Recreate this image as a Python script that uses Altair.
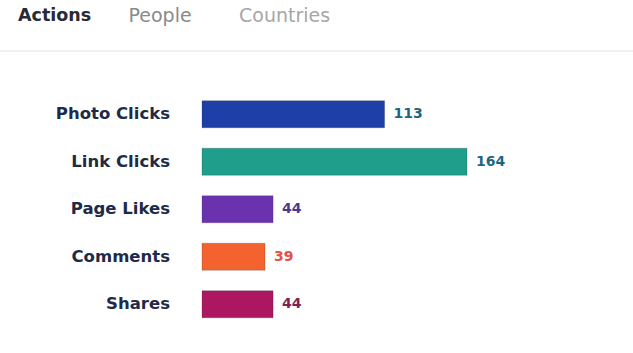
import altair as alt
import pandas as pd

categories = ["Photo Clicks", "Link Clicks", "Page Likes", "Comments", "Shares"]
values = [113, 164, 44, 39, 44]
bar_colors = ["#1f3fa8", "#1f9e8c", "#6b32b0", "#f4632f", "#ad1660"]
label_colors = ["#1d6683", "#1d6683", "#4b3a8c", "#e8504a", "#7d2352"]

tabs = ["Actions", "People", "Countries"]
tab_colors = ["#2a2a33", "#8a8a8a", "#a6a6a6"]
tab_bold = [True, False, False]

df = pd.DataFrame({"cat": categories, "val": values, "bc": bar_colors, "lc": label_colors})
tdf = pd.DataFrame({"tab": tabs, "tc": tab_colors, "b": tab_bold})

FONT = "DejaVu Sans"
xs = alt.Scale(domain=[0, 164], range=[202, 467])
ys = alt.Scale(domain=categories, range=[90.5, 328], paddingInner=0.43, paddingOuter=0.215)
ts = alt.Scale(type="point", domain=tabs, range=[18, 239], padding=0)

base = alt.Chart(df)
bars = base.mark_bar(stroke="#222222", strokeOpacity=0.35, strokeWidth=0.6).encode(
    x=alt.X("val:Q", scale=xs, axis=None),
    x2=alt.datum(0),
    y=alt.Y("cat:N", scale=ys, axis=None, sort=categories),
    color=alt.Color("bc:N", scale=None),
)
vals = base.mark_text(align="left", baseline="middle", dx=9, fontWeight="bold",
                      font=FONT, fontSize=14).encode(
    x=alt.X("val:Q", scale=xs, axis=None),
    y=alt.Y("cat:N", scale=ys, axis=None, sort=categories),
    text="val:Q",
    color=alt.Color("lc:N", scale=None),
)
cats = base.mark_text(align="right", baseline="middle", dx=-32, fontWeight="bold",
                      font=FONT, fontSize=16.5, color="#1e2a48").transform_calculate(
    zero="0"
).encode(
    x=alt.X("zero:Q", scale=xs, axis=None),
    y=alt.Y("cat:N", scale=ys, axis=None, sort=categories),
    text="cat:N",
)

tab_bold_layer = alt.Chart(tdf).transform_filter("datum.b").mark_text(
    align="left", baseline="middle", font=FONT, fontSize=17.5, fontWeight="bold"
).encode(
    x=alt.X("tab:N", scale=ts, axis=None),
    y=alt.value(16),
    text="tab:N",
    color=alt.Color("tc:N", scale=None),
)
tab_norm_layer = alt.Chart(tdf).transform_filter("!datum.b").mark_text(
    align="left", baseline="middle", font=FONT, fontSize=19
).encode(
    x=alt.X("tab:N", scale=ts, axis=None),
    y=alt.value(16),
    text="tab:N",
    color=alt.Color("tc:N", scale=None),
)
sep = alt.Chart(tdf.head(1)).mark_rule(color="#ececec", strokeWidth=1.5).encode(
    x=alt.value(0), x2=alt.value(633), y=alt.value(51)
)

chart = alt.layer(sep, tab_bold_layer, tab_norm_layer, bars, vals, cats).properties(
    width=633, height=353, padding=0, background="white",
    autosize=alt.AutoSizeParams(type="none")
).configure_view(stroke=None)

chart.save("out.html", embed_options={"renderer": "svg", "actions": False})
